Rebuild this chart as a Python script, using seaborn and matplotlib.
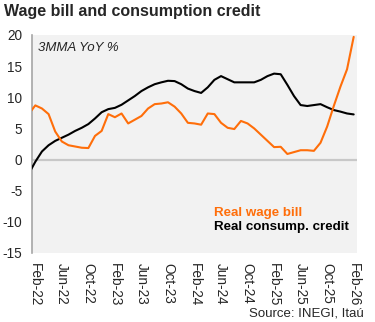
import numpy as np
import pandas as pd
import matplotlib
matplotlib.use("Agg")
import matplotlib.pyplot as plt
import seaborn as sns

months = pd.date_range("2022-01-01", "2026-02-01", freq="MS")
wage_bill = [7.3, 8.7, 8.2, 7.3, 4.5, 2.9, 2.3, 2.1, 1.9, 1.85, 3.8, 4.6, 7.3, 6.8, 7.4,
             5.8, 6.4, 7.0, 8.2, 8.9, 9.0, 9.2, 8.5, 7.4, 5.9, 5.8, 5.6, 7.4, 7.3, 5.9,
             5.1, 4.9, 6.2, 5.8, 5.0, 4.0, 3.0, 2.0, 2.05, 0.9, 1.2, 1.5, 1.5, 1.4, 2.7,
             5.3, 8.6, 11.7, 14.5, 19.7]
consump_credit = [-2.3, -0.35, 1.3, 2.3, 3.0, 3.5, 4.0, 4.6, 5.1, 5.7, 6.6, 7.6, 8.1, 8.3,
                  8.8, 9.5, 10.2, 11.0, 11.6, 12.1, 12.4, 12.65, 12.6, 12.1, 11.4, 11.0,
                  10.7, 11.6, 12.8, 13.4, 12.9, 12.4, 12.4, 12.4, 12.4, 12.8, 13.4, 13.8,
                  13.7, 12.0, 10.2, 8.75, 8.6, 8.75, 8.9, 8.4, 7.95, 7.7, 7.4, 7.25]
tick_labels = ["Feb-22", "Jun-22", "Oct-22", "Feb-23", "Jun-23", "Oct-23", "Feb-24",
               "Jun-24", "Oct-24", "Feb-25", "Jun-25", "Oct-25", "Feb-26"]
y_ticks = [-15, -10, -5, 0, 5, 10, 15, 20]

pos = np.arange(len(months)) - 1  # Feb-22 at 0
df = pd.DataFrame({"pos": pos, "wage": wage_bill, "credit": consump_credit})

ORANGE = "#FF6E0A"
sns.set_style("white")
plt.rcParams["font.family"] = ["Liberation Sans", "DejaVu Sans"]

fig = plt.figure(figsize=(3.75, 3.22), dpi=100)
ax = fig.add_axes([32/375, 1-253/322, 325/375, 218/322])
ax.set_facecolor("#F2F2F2")

ax.axhline(0, color="#C8C8C8", lw=1.6, zorder=1)
sns.lineplot(data=df, x="pos", y="credit", color="black", lw=1.5, ax=ax, zorder=3)
sns.lineplot(data=df, x="pos", y="wage", color=ORANGE, lw=1.5, ax=ax, zorder=3)

ax.set_xlim(-0.5, 48.5)
ax.set_ylim(-15, 20)
ax.set_yticks(y_ticks)
ax.set_yticklabels([str(v) for v in y_ticks], fontsize=9.8)
ax.set_xticks(np.arange(0, 49, 4))
ax.set_xticklabels(tick_labels, rotation=270, fontsize=9.8, va="top", ha="center")
ax.tick_params(axis="both", length=0)
ax.tick_params(axis="x", pad=7)
ax.tick_params(axis="y", pad=7)
ax.set_xlabel("")
ax.set_ylabel("")
for s in ["top", "right", "bottom"]:
    ax.spines[s].set_visible(False)
ax.spines["left"].set_color("#A6A6A6")
ax.spines["left"].set_linewidth(1.2)

fig.text(4/375, 1-16/322, "Wage bill and consumption credit", fontsize=11.5,
         fontweight="bold", ha="left", va="baseline")
fig.text(38/375, 1-51/322, "3MMA YoY %", fontsize=9.5, style="italic", ha="left", va="baseline")
fig.text(214/375, 1-216/322, "Real wage bill", fontsize=9.6, fontweight="bold",
         color=ORANGE, ha="left", va="baseline")
fig.text(214/375, 1-230/322, "Real consump. credit", fontsize=9.6, fontweight="bold",
         color="black", ha="left", va="baseline")
fig.text(364/375, 1-316/322, "Source: INEGI, Itaú", fontsize=9.5, ha="right", va="baseline")

fig.savefig("out.png", dpi=100)
